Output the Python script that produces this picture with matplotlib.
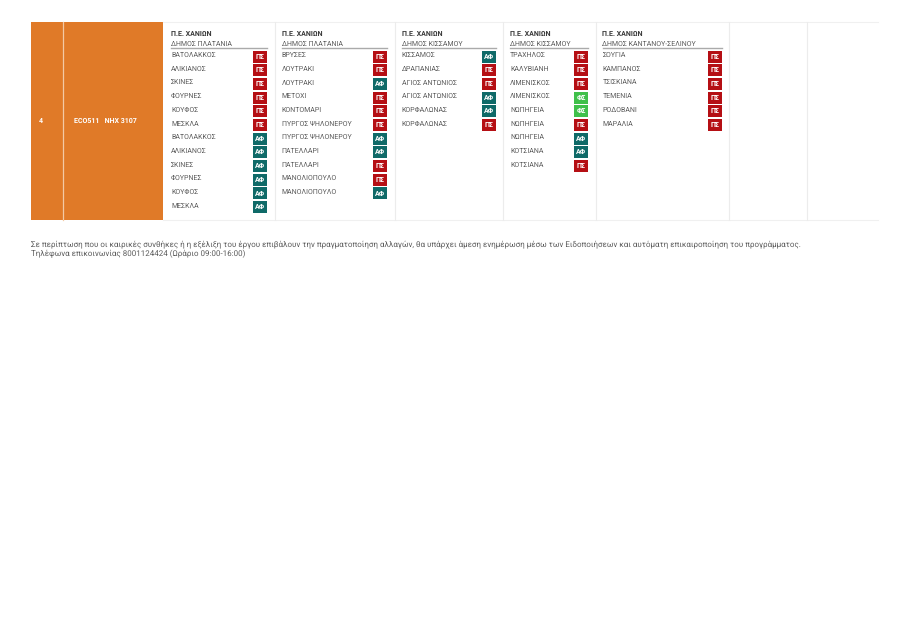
import matplotlib
matplotlib.use("Agg")
import matplotlib.pyplot as plt
from matplotlib.patches import Rectangle

plt.rcParams['font.family'] = ['Roboto', 'DejaVu Sans']
plt.rcParams['text.hinting'] = 'no_hinting'
plt.rcParams['text.hinting_factor'] = 1

row_number = "4"
route = "ECO511   NHX 3107"
region = "Π.Ε. ΧΑΝΙΩΝ"
municipalities = ["ΔΗΜΟΣ ΠΛΑΤΑΝΙΑ", "ΔΗΜΟΣ ΠΛΑΤΑΝΙΑ", "ΔΗΜΟΣ ΚΙΣΣΑΜΟΥ", "ΔΗΜΟΣ ΚΙΣΣΑΜΟΥ", "ΔΗΜΟΣ ΚΑΝΤΑΝΟΥ-ΣΕΛΙΝΟΥ"]
places_1 = ["ΒΑΤΟΛΑΚΚΟΣ", "ΑΛΙΚΙΑΝΟΣ", "ΣΚΙΝΕΣ", "ΦΟΥΡΝΕΣ", "ΚΟΥΦΟΣ", "ΜΕΣΚΛΑ", "ΒΑΤΟΛΑΚΚΟΣ", "ΑΛΙΚΙΑΝΟΣ", "ΣΚΙΝΕΣ", "ΦΟΥΡΝΕΣ", "ΚΟΥΦΟΣ", "ΜΕΣΚΛΑ"]
codes_1 = ["ΠΣ"] * 6 + ["ΑΦ"] * 6
places_2 = ["ΒΡΥΣΕΣ", "ΛΟΥΤΡΑΚΙ", "ΛΟΥΤΡΑΚΙ", "ΜΕΤΟΧΙ", "ΚΟΝΤΟΜΑΡΙ", "ΠΥΡΓΟΣ ΨΗΛΟΝΕΡΟΥ", "ΠΥΡΓΟΣ ΨΗΛΟΝΕΡΟΥ", "ΠΑΤΕΛΛΑΡΙ", "ΠΑΤΕΛΛΑΡΙ", "ΜΑΝΟΛΙΟΠΟΥΛΟ", "ΜΑΝΟΛΙΟΠΟΥΛΟ"]
codes_2 = ["ΠΣ", "ΠΣ", "ΑΦ", "ΠΣ", "ΠΣ", "ΠΣ", "ΑΦ", "ΑΦ", "ΠΣ", "ΠΣ", "ΑΦ"]
places_3 = ["ΚΙΣΣΑΜΟΣ", "ΔΡΑΠΑΝΙΑΣ", "ΑΓΙΟΣ ΑΝΤΩΝΙΟΣ", "ΑΓΙΟΣ ΑΝΤΩΝΙΟΣ", "ΚΟΡΦΑΛΩΝΑΣ", "ΚΟΡΦΑΛΩΝΑΣ"]
codes_3 = ["ΑΦ", "ΠΣ", "ΠΣ", "ΑΦ", "ΑΦ", "ΠΣ"]
places_4 = ["ΤΡΑΧΗΛΟΣ", "ΚΑΛΥΒΙΑΝΗ", "ΛΙΜΕΝΙΣΚΟΣ", "ΛΙΜΕΝΙΣΚΟΣ", "ΝΩΠΗΓΕΙΑ", "ΝΩΠΗΓΕΙΑ", "ΝΩΠΗΓΕΙΑ", "ΚΟΤΣΙΑΝΑ", "ΚΟΤΣΙΑΝΑ"]
codes_4 = ["ΠΣ", "ΠΣ", "ΠΣ", "ΦΣ", "ΦΣ", "ΠΣ", "ΑΦ", "ΑΦ", "ΠΣ"]
places_5 = ["ΣΟΥΓΙΑ", "ΚΑΜΠΑΝΟΣ", "ΤΣΙΣΚΙΑΝΑ", "ΤΕΜΕΝΙΑ", "ΡΟΔΟΒΑΝΙ", "ΜΑΡΑΛΙΑ"]
codes_5 = ["ΠΣ"] * 6
note_1 = "Σε περίπτωση που οι καιρικές συνθήκες ή η εξέλιξη του έργου επιβάλουν την πραγματοποίηση αλλαγών, θα υπάρχει άμεση ενημέρωση μέσω των Ειδοποιήσεων και αυτόματη επικαιροποίηση του προγράμματος."
note_2 = "Τηλέφωνα επικοινωνίας 8001124424 (Ωράριο 09:00-16:00)"

badge_colors = {"ΠΣ": "#b50f14", "ΑΦ": "#0f6a68", "ΦΣ": "#3fc04a"}
places = [places_1, places_2, places_3, places_4, places_5]
codes = [codes_1, codes_2, codes_3, codes_4, codes_5]
text_x = [171, 281.5, 401.5, 510, 602.5]
badge_right = [267.3, 387.3, 495.7, 588.3, 721.7]
separators = [274.5, 394.5, 502.5, 595.5, 728.5, 806.5]

W, H = 899, 624
fig = plt.figure(figsize=(W / 100, H / 100), dpi=100, facecolor="white")
ax = fig.add_axes([0, 0, 1, 1])
ax.set_xlim(0, W)
ax.set_ylim(H, 0)
ax.axis("off")

top, bottom = 22, 219.5
ax.plot([163, 878], [top, top], color="#f0f0f0", lw=0.8)
ax.plot([163, 878], [bottom, bottom], color="#f0f0f0", lw=0.8)
for s in separators:
    ax.plot([s, s], [top, bottom], color="#ececec", lw=0.8)
ax.add_patch(Rectangle((31, top), 132, bottom - top, fc="#e07a28", ec="none"))
ax.plot([62.8, 62.8], [top, bottom], color="#f3c9a4", lw=0.9)

ax.text(40.5, 121, row_number, color="white", fontsize=5.2, fontweight="bold", ha="center", va="center")
ax.text(105, 121, route, color="white", fontsize=5.2, fontweight="bold", ha="center", va="center")

step = 13.68
for c, (muni, pl, cd) in enumerate(zip(municipalities, places, codes)):
    x = text_x[c]
    r = badge_right[c]
    ax.text(x, 33.7, region, color="#3a3a3a", fontsize=5.3, fontweight="bold", va="center")
    ax.text(x, 43.7, muni, color="#5c5c5c", fontsize=5.25, va="center")
    ax.plot([x, r], [47.6, 47.6], color="#aaaaaa", lw=1)
    for i, (p, k) in enumerate(zip(pl, cd)):
        y = 55.2 + step * i
        ax.text(x, y, p, color="#5c5c5c", fontsize=5.2, va="center")
        ax.add_patch(Rectangle((r - 14, y - 4.7), 14, 12, fc=badge_colors[k], ec="none"))
        ax.text(r - 7, y + 1.6, k, color="white", fontsize=5.2, fontweight="bold", ha="center", va="center")

ax.text(31, 244, note_1, color="#5c5c5c", fontsize=5.7, va="center")
ax.text(31, 254.3, note_2, color="#5c5c5c", fontsize=5.7, va="center")

fig.savefig("out.png", dpi=100, facecolor="white")
